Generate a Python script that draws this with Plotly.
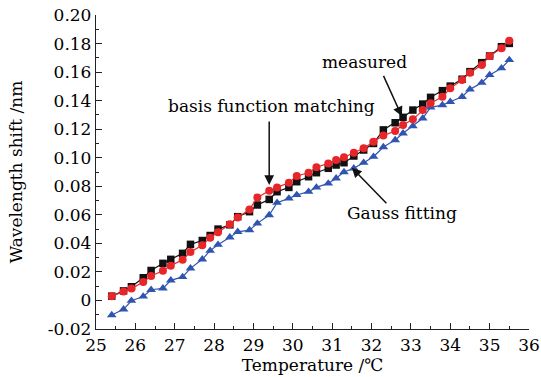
import plotly.graph_objects as go

temperature = [25.4, 25.7, 25.9, 26.2, 26.4, 26.7, 26.9, 27.2, 27.4, 27.7, 27.9, 28.1,
               28.4, 28.6, 28.9, 29.1, 29.4, 29.6, 29.9, 30.1, 30.4, 30.6, 30.9, 31.1,
               31.3, 31.55, 31.8, 32.05, 32.3, 32.6, 32.8, 33.05, 33.3, 33.5, 33.8, 34.0,
               34.3, 34.5, 34.8, 35.0, 35.3, 35.5]

measured = [0.0030, 0.0067, 0.0096, 0.0159, 0.0210, 0.0260, 0.0288, 0.0330, 0.0393, 0.0420,
            0.0455, 0.0500, 0.0530, 0.0587, 0.0622, 0.0669, 0.0708, 0.0762, 0.0792, 0.0832,
            0.0867, 0.0895, 0.0926, 0.0949, 0.0965, 0.1012, 0.1054, 0.1100, 0.1195, 0.1245,
            0.1283, 0.1334, 0.1376, 0.1423, 0.1470, 0.1502, 0.1550, 0.1603, 0.1666, 0.1713,
            0.1778, 0.1801]

basis_matching = [0.0030, 0.0062, 0.0083, 0.0130, 0.0172, 0.0208, 0.0244, 0.0285, 0.0339, 0.0387,
                  0.0440, 0.0478, 0.0534, 0.0582, 0.0638, 0.0722, 0.0769, 0.0792, 0.0825, 0.0872,
                  0.0895, 0.0933, 0.0960, 0.0984, 0.1003, 0.1035, 0.1066, 0.1112, 0.1155, 0.1187,
                  0.1229, 0.1269, 0.1334, 0.1381, 0.1427, 0.1486, 0.1544, 0.1596, 0.1650, 0.1713,
                  0.1767, 0.1820]

gauss_fitting = [-0.0102, -0.0062, -0.0002, 0.0028, 0.0075, 0.0085, 0.0141, 0.0165, 0.0225, 0.0288,
                 0.0349, 0.0391, 0.0442, 0.0481, 0.0493, 0.0540, 0.0598, 0.0685, 0.0715, 0.0739,
                 0.0762, 0.0792, 0.0820, 0.0856, 0.0900, 0.0926, 0.0965, 0.1007, 0.1075, 0.1124,
                 0.1171, 0.1222, 0.1276, 0.1353, 0.1369, 0.1392, 0.1427, 0.1479, 0.1526, 0.1580,
                 0.1627, 0.1685]

y_tick_vals = [-0.02, 0, 0.02, 0.04, 0.06, 0.08, 0.10, 0.12, 0.14, 0.16, 0.18, 0.20]
y_tick_text = ["-0.02", "0", "0.02", "0.04", "0.06", "0.08", "0.10", "0.12", "0.14", "0.16", "0.18", "0.20"]
x_tick_vals = list(range(25, 37))

FONT = "DejaVu Serif"
BLACK = "#111111"
RED = "#e8262a"
BLUE = "#2f55b0"

fig = go.Figure()
fig.add_trace(go.Scatter(x=temperature, y=measured, mode="lines+markers", name="measured",
                         line=dict(color=BLACK, width=1.2),
                         marker=dict(symbol="square", size=7.5, color=BLACK)))
fig.add_trace(go.Scatter(x=temperature, y=gauss_fitting, mode="lines+markers", name="Gauss fitting",
                         line=dict(color=BLUE, width=1.2),
                         marker=dict(symbol="triangle-up", size=8.5, color=BLUE)))
fig.add_trace(go.Scatter(x=temperature, y=basis_matching, mode="lines+markers", name="basis function matching",
                         line=dict(color=RED, width=1.2),
                         marker=dict(symbol="circle", size=8, color=RED)))

axis_common = dict(showline=True, linecolor="#222", linewidth=1.3, ticks="inside", ticklen=6,
                   tickwidth=1.2, tickcolor="#222", showgrid=False, zeroline=False, mirror=False,
                   automargin=False,
                   tickfont=dict(family=FONT, size=17, color="#000"))

fig.update_xaxes(range=[25, 36], tickvals=x_tick_vals,
                 minor=dict(ticks="inside", ticklen=3, tickwidth=1, tickcolor="#222", dtick=0.5, showgrid=False),
                 title=dict(text="Temperature /℃", font=dict(family=FONT, size=17, color="#000"), standoff=0),
                 **axis_common)
fig.update_yaxes(range=[-0.02, 0.20], tickvals=y_tick_vals, ticktext=y_tick_text,
                 minor=dict(ticks="inside", ticklen=3, tickwidth=1, tickcolor="#222", dtick=0.01,
                            tick0=0, showgrid=False),
                 title=dict(text="Wavelength shift /nm", font=dict(family=FONT, size=17, color="#000"), standoff=20),
                 **axis_common)

ann_font = dict(family=FONT, size=17, color="#000")
fig.add_annotation(x=31.83, y=0.167, text="measured", showarrow=False, font=ann_font)
fig.add_annotation(x=29.45, y=0.1362, text="basis function matching", showarrow=False, font=ann_font)
fig.add_annotation(x=32.77, y=0.0612, text="Gauss fitting", showarrow=False, font=ann_font)

arrow_style = dict(text="", showarrow=True, arrowhead=2, arrowsize=1.3, arrowwidth=1.5, arrowcolor="#111",
                   axref="pixel", ayref="pixel")
fig.add_annotation(x=32.77, y=0.1290, ax=-19, ay=-42, **arrow_style)
fig.add_annotation(x=29.4, y=0.0809, ax=0, ay=-65, **arrow_style)
fig.add_annotation(x=31.5, y=0.0930, ax=36, ay=37, **arrow_style)

fig.update_layout(width=541, height=377, margin=dict(l=96, r=12, t=15, b=48),
                  paper_bgcolor="white", plot_bgcolor="white", showlegend=False,
                  font=dict(family=FONT, color="#000"))

fig.write_html("out.html", config={"displayModeBar": False},
               post_script="document.body.style.margin='0';document.body.style.overflow='hidden';")
